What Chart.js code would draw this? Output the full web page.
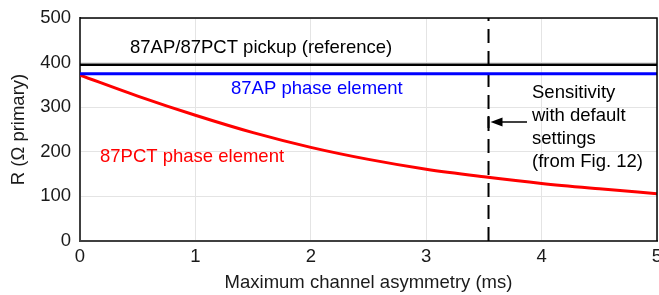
<!DOCTYPE html>
<html>
<head>
<meta charset="utf-8">
<script src="https://cdn.jsdelivr.net/npm/chart.js@4.4.1/dist/chart.umd.min.js"></script>
<style>
  html, body { margin: 0; padding: 0; background: #fff; }
  #wrap { width: 659px; height: 295px; }
</style>
</head>
<body>
<div id="wrap"><canvas id="chart" width="659" height="295"></canvas></div>
<script>
// asymmetry (ms) vs R (ohm primary)
var asymmetry = [0, 0.5, 1, 1.5, 2, 2.5, 3, 3.5, 4, 4.5, 5];
var pctValues = [372, 325, 282, 243, 210, 183, 161, 144, 129, 117, 106];
var pickupValue = 395;
var apValue = 375;
var defaultAsymmetry = 3.54;
var xTicks = [0, 1, 2, 3, 4, 5];
var yTicks = [0, 100, 200, 300, 400, 500];

var FONT = "'Liberation Sans', Arial, sans-serif";
var FSIZE = 18.5;

function pairs(xs, ys) {
  var out = [];
  for (var i = 0; i < xs.length; i++) out.push({ x: xs[i], y: ys[i] });
  return out;
}

// text + arrow overlay, plus top/right frame
var annotations = {
  id: 'annotations',
  afterDatasetsDraw: function(chart) {
    var ctx = chart.ctx;
    var a = chart.chartArea;
    var xs = chart.scales.x;
    ctx.save();

    ctx.strokeStyle = '#000';
    ctx.lineWidth = 1.5;
    ctx.beginPath();
    ctx.moveTo(a.left, a.top);
    ctx.lineTo(a.right, a.top);
    ctx.lineTo(a.right, a.bottom);
    ctx.stroke();

    ctx.font = FSIZE + 'px ' + FONT;
    ctx.textBaseline = 'middle';
    ctx.textAlign = 'left';

    ctx.fillStyle = '#000';
    ctx.fillText('87AP/87PCT pickup (reference)', 130, 48);
    ctx.fillStyle = '#0000ff';
    ctx.fillText('87AP phase element', 231, 89);
    ctx.fillStyle = '#ff0000';
    ctx.fillText('87PCT phase element', 100, 157);

    ctx.fillStyle = '#000';
    var tx = 532;
    ['Sensitivity', 'with default', 'settings', '(from Fig. 12)'].forEach(function(t, i) {
      ctx.fillText(t, tx, 93 + i * 23);
    });

    // arrow pointing at the dashed line
    var px = xs.getPixelForValue(defaultAsymmetry);
    var ay = 122;
    ctx.strokeStyle = '#000';
    ctx.lineWidth = 1.5;
    ctx.beginPath();
    ctx.moveTo(527, ay);
    ctx.lineTo(px + 10, ay);
    ctx.stroke();
    ctx.beginPath();
    ctx.moveTo(px + 2, ay);
    ctx.lineTo(px + 14, ay - 4.5);
    ctx.lineTo(px + 14, ay + 4.5);
    ctx.closePath();
    ctx.fill();
    ctx.lineWidth = 2;
    ctx.beginPath();
    ctx.moveTo(px, ay - 6);
    ctx.lineTo(px, ay + 6);
    ctx.stroke();

    ctx.restore();
  }
};

new Chart(document.getElementById('chart'), {
  type: 'line',
  data: {
    datasets: [
      {
        data: pairs([0, 5], [pickupValue, pickupValue]),
        borderColor: '#000',
        borderWidth: 2.5
      },
      {
        data: pairs([0, 5], [apValue, apValue]),
        borderColor: '#0000ff',
        borderWidth: 3
      },
      {
        data: pairs(asymmetry, pctValues),
        borderColor: '#ff0000',
        borderWidth: 3,
        cubicInterpolationMode: 'monotone'
      },
      {
        data: pairs([defaultAsymmetry, defaultAsymmetry], [0, 500]),
        borderColor: '#000',
        borderWidth: 2,
        borderDash: [14, 8]
      }
    ]
  },
  options: {
    responsive: false,
    animation: false,
    events: [],
    elements: { point: { radius: 0 } },
    layout: { padding: { left: 4, top: 18, right: 2, bottom: 0 } },
    plugins: { legend: { display: false }, tooltip: { enabled: false } },
    scales: {
      x: {
        type: 'linear',
        min: 0,
        max: 5,
        afterBuildTicks: function(s) { s.ticks = xTicks.map(function(v) { return { value: v }; }); },
        afterFit: function(s) { s.height = 54; s.paddingLeft = 0; s.paddingRight = 0; },
        grid: { color: '#e4e4e4', lineWidth: 1, drawTicks: false },
        border: { color: '#404040', width: 2 },
        ticks: { color: '#1a1a1a', font: { family: FONT, size: FSIZE }, padding: 5 },
        title: {
          display: true,
          text: 'Maximum channel asymmetry (ms)',
          color: '#1a1a1a',
          font: { family: FONT, size: FSIZE },
          padding: { top: 0, bottom: 1 }
        }
      },
      y: {
        min: 0,
        max: 500,
        afterBuildTicks: function(s) { s.ticks = yTicks.map(function(v) { return { value: v }; }); },
        afterFit: function(s) { s.width = 76; s.paddingTop = 0; s.paddingBottom = 0; },
        grid: { color: '#e4e4e4', lineWidth: 1, drawTicks: false },
        border: { color: '#404040', width: 2 },
        ticks: { color: '#1a1a1a', font: { family: FONT, size: FSIZE }, padding: 9 },
        title: {
          display: true,
          text: 'R (\u03A9 primary)',
          color: '#1a1a1a',
          font: { family: FONT, size: FSIZE },
          padding: { bottom: 4 }
        }
      }
    }
  },
  plugins: [annotations]
});
</script>
</body>
</html>
